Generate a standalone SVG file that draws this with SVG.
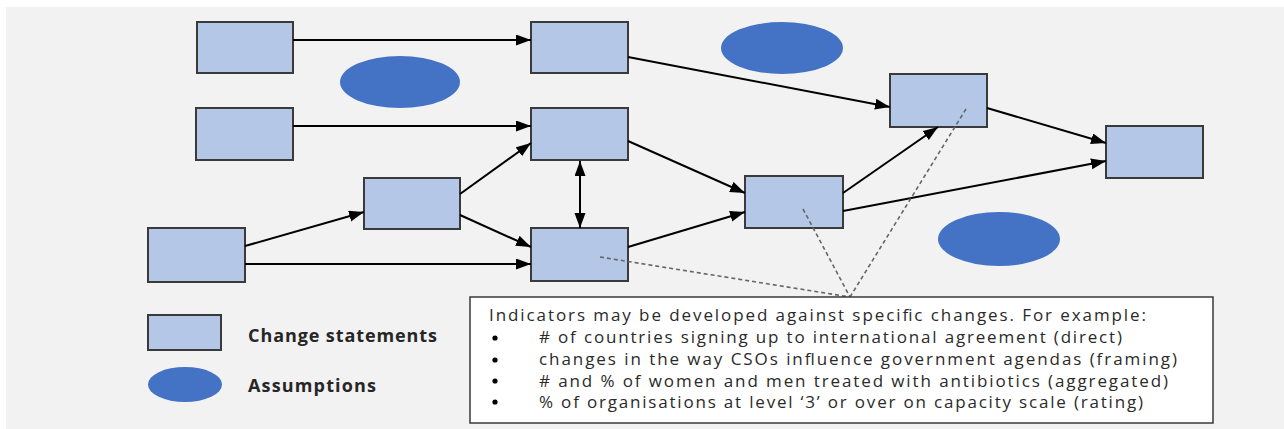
<svg xmlns="http://www.w3.org/2000/svg" width="1284" height="429" viewBox="0 0 1284 429">
  <defs>
    <marker id="arrow" markerUnits="userSpaceOnUse" markerWidth="17" markerHeight="13" refX="15" refY="5.5" orient="auto-start-reverse">
      <path d="M0,0 L15,5.5 L0,11 z" fill="#000"/>
    </marker>
    <style>
      .box { fill: #b4c7e7; stroke: #3a3a3a; stroke-width: 2; }
      .assume { fill: #4472c4; }
      .link { stroke: #000; stroke-width: 2; fill: none; marker-end: url(#arrow); }
      .dot { stroke: #666; stroke-width: 1.6; stroke-dasharray: 4 3; fill: none; }
      .legend { font-family: "Open Sans", "Liberation Sans", sans-serif; font-weight: bold; font-size: 18px; fill: #262626; }
      .note { font-family: "Open Sans", "Liberation Sans", sans-serif; font-size: 17px; fill: #2a2a2a; }
    </style>
  </defs>

  <!-- canvas -->
  <rect x="0" y="0" width="1284" height="429" fill="#ffffff"/>
  <rect x="6" y="7" width="1278" height="422" fill="#f2f2f2"/>

  <!-- assumption ellipses -->
  <g id="assumption-1"><ellipse class="assume" cx="400" cy="82" rx="60" ry="26"/></g>
  <g id="assumption-2"><ellipse class="assume" cx="782" cy="48" rx="61" ry="26"/></g>
  <g id="assumption-3"><ellipse class="assume" cx="999" cy="239" rx="61" ry="27"/></g>

  <!-- change statements -->
  <g id="change-a"><rect class="box" x="197" y="22" width="96" height="51"/></g>
  <g id="change-b"><rect class="box" x="531" y="22" width="97" height="51"/></g>
  <g id="change-c"><rect class="box" x="196" y="108" width="97" height="52"/></g>
  <g id="change-d"><rect class="box" x="531" y="108" width="97" height="52"/></g>
  <g id="change-e"><rect class="box" x="364" y="178" width="96" height="51"/></g>
  <g id="change-j"><rect class="box" x="148" y="228" width="97" height="54"/></g>
  <g id="change-f"><rect class="box" x="531" y="228" width="97" height="53"/></g>
  <g id="change-i"><rect class="box" x="745" y="176" width="98" height="52"/></g>
  <g id="change-g"><rect class="box" x="890" y="74" width="97" height="53"/></g>
  <g id="change-h"><rect class="box" x="1106" y="126" width="97" height="52"/></g>

  <!-- connectors -->
  <g id="connectors">
    <line class="link" x1="293" y1="40" x2="531" y2="40"/>
    <line class="link" x1="293" y1="126" x2="531" y2="126"/>
    <line class="link" x1="460" y1="194" x2="531" y2="143"/>
    <line class="link" x1="580" y1="161" x2="580" y2="228" marker-start="url(#arrow)"/>
    <line class="link" x1="245" y1="246" x2="364" y2="212"/>
    <line class="link" x1="460" y1="215" x2="531" y2="247"/>
    <line class="link" x1="245" y1="264" x2="531" y2="264"/>
    <line class="link" x1="628" y1="57" x2="890" y2="107"/>
    <line class="link" x1="628" y1="141" x2="745" y2="193"/>
    <line class="link" x1="628" y1="247" x2="745" y2="212"/>
    <line class="link" x1="843" y1="193" x2="938" y2="127"/>
    <line class="link" x1="843" y1="211" x2="1106" y2="161"/>
    <line class="link" x1="987" y1="108" x2="1106" y2="143"/>
    <!-- indicator callouts -->
    <line class="dot" x1="600" y1="257" x2="850" y2="297"/>
    <line class="dot" x1="803" y1="209" x2="850" y2="297"/>
    <line class="dot" x1="966" y1="109" x2="850" y2="297"/>
  </g>

  <!-- legend -->
  <g id="legend">
    <rect class="box" x="148" y="315" width="73" height="35"/>
    <text class="legend" x="248" y="342" textLength="189">Change statements</text>
    <ellipse class="assume" cx="185" cy="384.5" rx="37" ry="17.5"/>
    <text class="legend" x="248" y="392" textLength="128">Assumptions</text>
  </g>

  <!-- indicator note -->
  <g id="indicator-note">
    <rect x="470" y="297" width="743" height="126" fill="#ffffff" stroke="#3a3a3a" stroke-width="1.5"/>
    <text class="note" x="489" y="321" textLength="657">Indicators may be developed against specific changes. For example:</text>
    <circle cx="495" cy="338" r="2.6" fill="#000"/>
    <circle cx="495" cy="360" r="2.6" fill="#000"/>
    <circle cx="495" cy="381" r="2.6" fill="#000"/>
    <circle cx="495" cy="402" r="2.6" fill="#000"/>
    <text class="note" x="539" y="343" textLength="583"># of countries signing up to international agreement (direct)</text>
    <text class="note" x="539" y="365" textLength="638">changes in the way CSOs influence government agendas (framing)</text>
    <text class="note" x="539" y="387" textLength="629"># and % of women and men treated with antibiotics (aggregated)</text>
    <text class="note" x="539" y="408" textLength="604">% of organisations at level ‘3’ or over on capacity scale (rating)</text>
  </g>
</svg>
